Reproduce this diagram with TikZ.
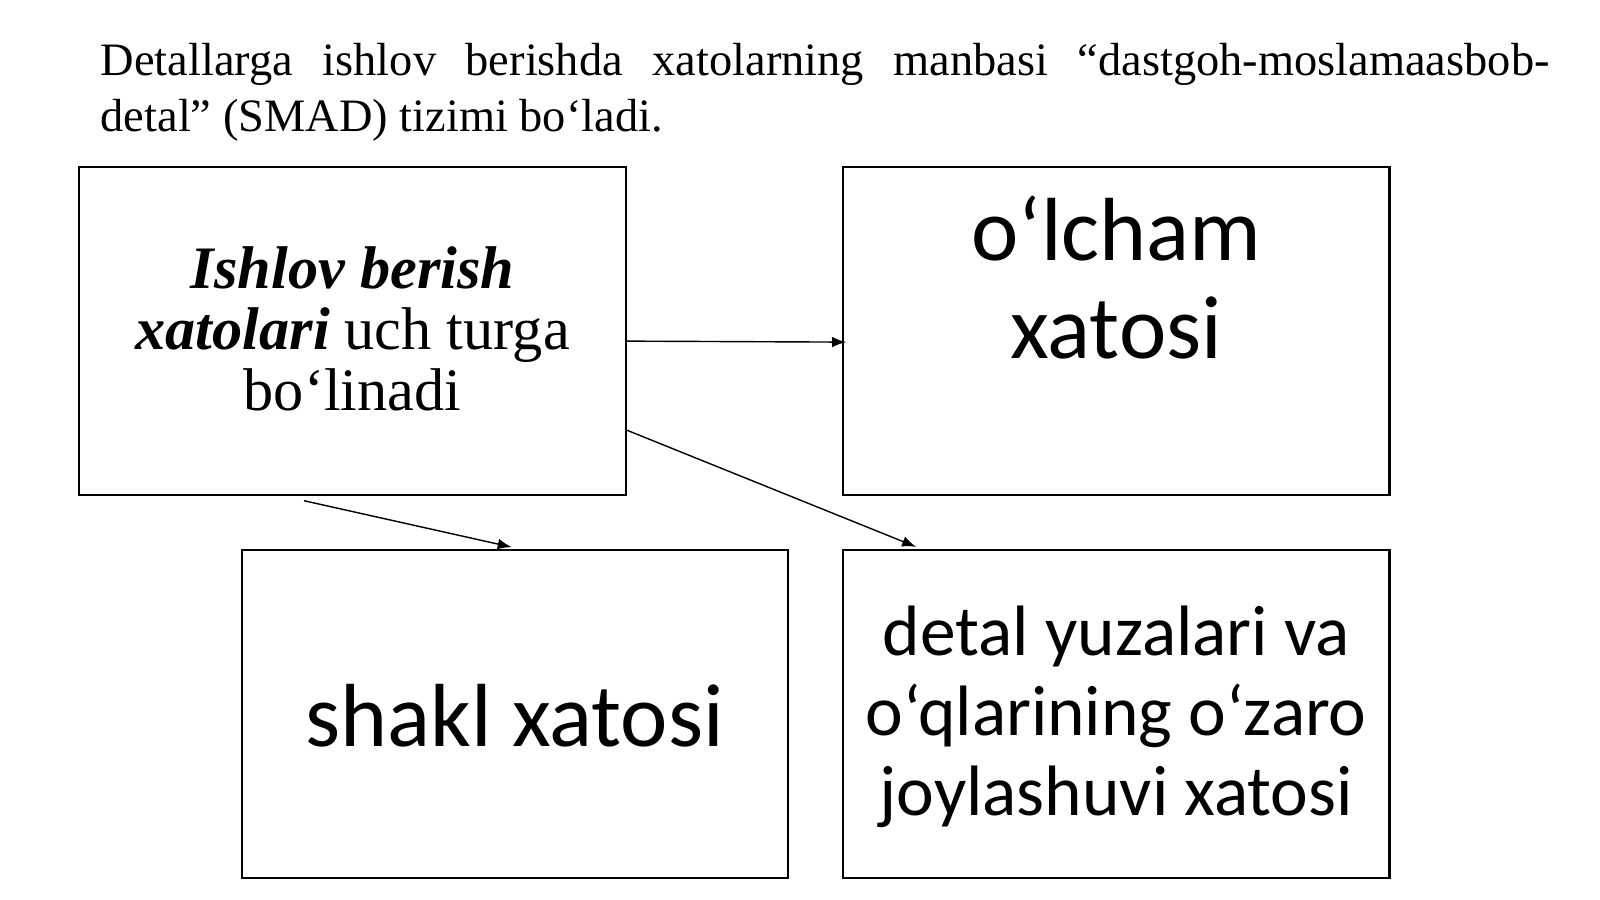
\documentclass[tikz,border=0pt]{standalone}
\usepackage{fontspec}
\setmainfont{Liberation Serif}
\newfontfamily\carlito{Carlito}
\usetikzlibrary{positioning}

\tikzset{
  box/.style={draw,line width=0.6pt,minimum width=5.46cm,minimum height=3.276cm,inner sep=0pt},
  serif txt/.style={align=center,font=\fontsize{17.15}{17.4}\selectfont},
  big txt/.style={align=center,font=\carlito\fontsize{25.5}{27.9}\selectfont},
  mid txt/.style={align=center,font=\carlito\fontsize{20.3}{22.8}\selectfont}
}

\begin{document}
\begin{tikzpicture}[x=0.01cm,y=-0.01cm]
			\useasboundingbox (0,0) rectangle (1600,899);
			\node [at={(100,42.8)}, anchor=north west, inner sep=0pt, text width=14.48cm, align=justify,
			  font=\fontsize{13.2}{15.8}\selectfont] (intro)
			  {\hyphenpenalty=10000 Detallarga ishlov berishda xatolarning manbasi “dastgoh-moslamaasbob-\linebreak detal” (SMAD) tizimi bo‘ladi.};
			\node [box, at={(352.6,331.1)}] (ishlov) {};
			\node [box, at={(1116.3,331.1)}] (olcham) {};
			\node [box, at={(514.8,713.8)}] (shakl) {};
			\node [box, at={(1116.3,713.8)}] (joylash) {};
			\node [serif txt, at={(352.6,328.6)}] (ishlov-t) {\textbf{\textit{Ishlov berish}}\\\textbf{\textit{xatolari}} uch turga\\bo‘linadi};
			\node [big txt, at={(1116.3,277.5)}] (olcham-t) {o‘lcham\\xatosi};
			\node [big txt, at={(shakl.center)}, yshift=-0.02cm] (shakl-t) {shakl xatosi};
			\node [mid txt, at={(joylash.center)}, yshift=-0.03cm] (joylash-t) {detal yuzalari va\\o‘qlarining o‘zaro\\joylashuvi xatosi};
			\coordinate (a3) at (304,500.7);
			\draw[-latex] ([yshift=-0.1cm]ishlov.east) -- ([xshift=0.04cm,yshift=-0.11cm]olcham.west);
			\draw[-latex] ([yshift=-0.99cm]ishlov.east) -- ([xshift=-2cm,yshift=0.02cm]joylash.north);
			\draw[-latex] (a3) -- ([xshift=-0.03cm,yshift=0.017cm]shakl.north);
\end{tikzpicture}
\end{document}
